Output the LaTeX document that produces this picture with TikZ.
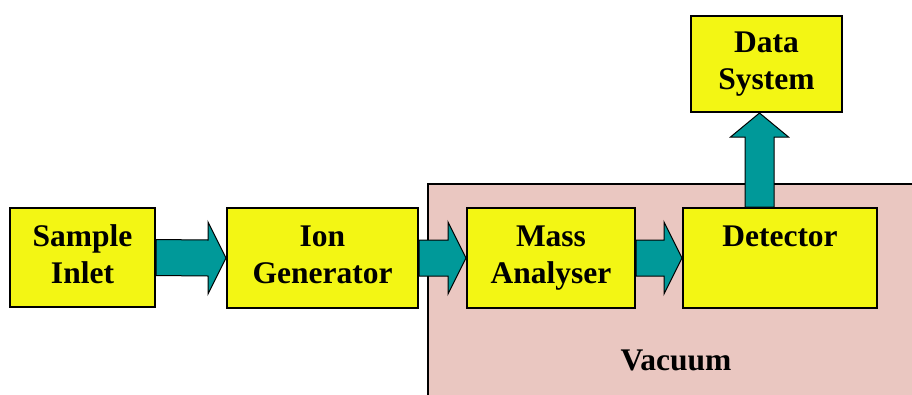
\documentclass[tikz,border=0pt]{standalone}
\usepackage{fontspec}
\setmainfont{Liberation Serif}
\usetikzlibrary{calc}
\definecolor{boxyellow}{RGB}{243,246,20}
\definecolor{arrowteal}{RGB}{0,153,153}
\definecolor{vacpink}{RGB}{234,199,193}
\tikzset{
  unitbox/.style={draw=black, line width=2pt, fill=boxyellow, inner sep=0pt, align=center,
    font=\fontsize{31.5}{37}\selectfont\bfseries},
  fatarrow/.style={draw=black, line width=1pt, fill=arrowteal, line join=miter},
  vacregion/.style={draw=black, line width=1.5pt, fill=vacpink}
}
\begin{document}
\begin{tikzpicture}[x=1pt,y=-1pt]
\useasboundingbox (0,0) rectangle (912,394);
\begin{scope}
\clip (0,0) rectangle (912,394);
\draw[vacregion] (428,184) rectangle (916,398);
\end{scope}
\node[font=\fontsize{31.5}{37}\selectfont\bfseries] (vac) at (676,360) {Vacuum};
\node[unitbox, minimum width=145pt, minimum height=99pt] (si) at (82.5,257.5) {Sample\strut\\Inlet\strut};
\node[unitbox, minimum width=191pt, minimum height=100pt] (ig) at (322.5,258) {Ion\strut\\Generator\strut};
\node[unitbox, minimum width=168pt, minimum height=100pt] (ma) at (551,258) {Mass\strut\\Analyser\strut};
\node[unitbox, minimum width=194pt, minimum height=100pt] (det) at (780,258) {Detector\strut\\\strut};
\node[unitbox, minimum width=151pt, minimum height=96pt] (ds) at (766.5,64) {Data\strut\\System\strut};
% horizontal arrows
\foreach \a/\b in {si/ig, ig/ma, ma/det}{
  \draw[fatarrow] ($(\a.east)+(0,-18)$) -- ($(\b.west)+(-18,-18)$) -- ($(\b.west)+(-18,-36)$)
    -- (\b.west) -- ($(\b.west)+(-18,36)$) -- ($(\b.west)+(-18,18)$) -- ($(\a.east)+(0,18)$) -- cycle;
}
% vertical arrow
\coordinate (vb) at (det.north -| 759.5,0);
\coordinate (vt) at (ds.south -| 759.5,0);
\draw[fatarrow] ($(vb)+(-14.5,0)$) -- ($(vt)+(-14.5,24)$) -- ($(vt)+(-29,24)$) -- (vt)
  -- ($(vt)+(29,24)$) -- ($(vt)+(14.5,24)$) -- ($(vb)+(14.5,0)$) -- cycle;
\end{tikzpicture}
\end{document}
